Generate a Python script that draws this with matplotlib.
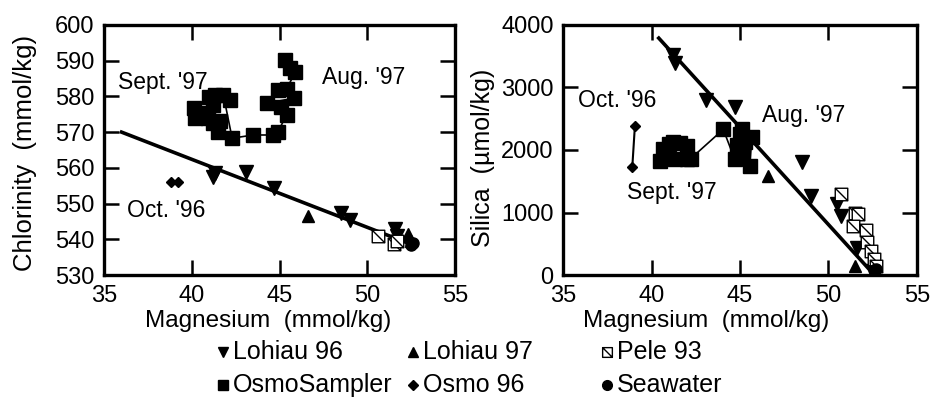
import matplotlib
matplotlib.use("Agg")
import matplotlib.pyplot as plt
from matplotlib.lines import Line2D
from matplotlib.path import Path

plt.rcParams["font.family"] = ["Liberation Sans", "DejaVu Sans"]

# ---- Data: chlorinity vs magnesium (left panel) ----
cl_lohiau96_mg = [41.2, 41.3, 43.1, 44.7, 48.5, 49.0, 51.6, 51.7]
cl_lohiau96 = [557.5, 558.5, 558.9, 554.3, 547.3, 545.4, 542.8, 541.0]
cl_lohiau97_mg = [46.6, 52.3, 52.5]
cl_lohiau97 = [546.5, 541.6, 539.5]
cl_pele93_mg = [50.6, 51.5, 51.7]
cl_pele93 = [540.9, 538.6, 539.6]
cl_seawater_mg = [52.5, 52.6]
cl_seawater = [538.4, 538.9]
cl_osmo96_mg = [38.8, 39.2]
cl_osmo96 = [556.1, 556.1]
cl_osmo_mg = [45.3, 45.6, 45.9, 45.4, 44.9, 45.8, 44.3, 45.1, 45.4, 44.9,
              44.6, 43.5, 42.3, 41.8, 42.2, 41.3, 41.0, 41.2, 40.7, 40.1,
              40.2, 40.9, 41.2, 41.6, 41.5]
cl_osmo = [590.2, 588.0, 586.9, 582.0, 581.8, 579.5, 578.1, 577.1, 574.8, 570.0,
           569.2, 569.2, 568.3, 580.4, 579.0, 580.4, 579.9, 577.5, 575.3, 576.7,
           573.9, 573.9, 572.5, 573.0, 570.1]
cl_fit_mg = [36.0, 52.6]
cl_fit = [570.0, 538.4]

# ---- Data: silica vs magnesium (right panel) ----
si_lohiau96_mg = [41.2, 41.3, 43.1, 44.7, 48.5, 49.0, 50.5, 50.7, 51.6, 52.5]
si_lohiau96 = [3520, 3390, 2800, 2690, 1800, 1270, 1130, 950, 440, 60]
si_lohiau97_mg = [46.6, 51.5, 52.6]
si_lohiau97 = [1590, 150, 170]
si_pele93_mg = [50.7, 51.5, 51.7, 51.4, 52.1, 52.2, 52.4, 52.6, 52.7]
si_pele93 = [1290, 1000, 970, 780, 720, 530, 390, 250, 150]
si_seawater_mg = [52.6, 52.7]
si_seawater = [80, 100]
si_osmo96_mg = [39.05, 38.9]
si_osmo96 = [2390, 1720]
si_osmo_mg = [40.47, 40.66, 41.0, 41.32, 41.2, 41.6, 42.0, 42.0, 42.2, 44.05,
              44.7, 44.8, 45.0, 45.1, 45.1, 45.3, 45.66, 45.56]
si_osmo = [1830, 2020, 2100, 1860, 2125, 2110, 2070, 1860, 1860, 2330,
           1850, 2080, 2250, 2330, 1950, 2120, 2200, 1750]
si_fit_mg = [40.4, 52.6]
si_fit = [3790, 0]

# open square with a diagonal, used for Pele 93
pele_marker = Path([(-1, -1), (1, -1), (1, 1), (-1, 1), (-1, -1), (-1, 1), (1, -1)],
                   [Path.MOVETO, Path.LINETO, Path.LINETO, Path.LINETO,
                    Path.CLOSEPOLY, Path.MOVETO, Path.LINETO])

fig = plt.figure(figsize=(9.33, 4.03), dpi=100)
ax1 = fig.add_axes([0.1115, 0.3176, 0.3762, 0.6204])
ax2 = fig.add_axes([0.6038, 0.3176, 0.3788, 0.6204])


def style_axis(ax):
    for sp in ax.spines.values():
        sp.set_linewidth(2.4)
    ax.tick_params(direction="in", length=11, width=1.8, labelsize=17,
                   top=True, right=True, pad=7)
    ax.set_xlim(35, 55)
    ax.set_xticks([35, 40, 45, 50, 55])


def draw_points(ax, data):
    lo96, lo97, pele, sea, o96, osmo, fit = data
    ax.plot(*fit, color="black", lw=2.6, zorder=2)
    ax.plot(*osmo, color="black", lw=1.2, marker="s", ms=9.5,
            mfc="black", mec="black", zorder=3)
    ax.plot(*o96, color="black", lw=1.5, marker="D", ms=5.5, zorder=3)
    ax.plot(*lo96, ls="none", marker="v", ms=9.5, color="black", zorder=3)
    ax.plot(*lo97, ls="none", marker="^", ms=9, color="black", zorder=3)
    ax.plot(*pele, ls="none", marker=pele_marker, ms=9, mfc="white",
            mec="black", mew=1, zorder=4)
    ax.plot(*sea, ls="none", marker="o", ms=8, color="black", zorder=5)


style_axis(ax1)
ax1.set_ylim(530, 600)
ax1.set_yticks(range(530, 601, 10))
draw_points(ax1, [(cl_lohiau96_mg, cl_lohiau96), (cl_lohiau97_mg, cl_lohiau97),
                  (cl_pele93_mg, cl_pele93), (cl_seawater_mg, cl_seawater),
                  (cl_osmo96_mg, cl_osmo96), (cl_osmo_mg, cl_osmo),
                  (cl_fit_mg, cl_fit)])
ax1.text(35.8, 584, "Sept. '97", fontsize=16.5, va="center")
ax1.text(47.4, 585.2, "Aug. '97", fontsize=16.5, va="center")
ax1.text(36.3, 548.2, "Oct. '96", fontsize=16.5, va="center")
ax1.set_xlabel("Magnesium  (mmol/kg)", fontsize=17.5)
ax1.xaxis.set_label_coords(0.467, -0.14)
ax1.set_ylabel("Chlorinity  (mmol/kg)", fontsize=18.5)
ax1.yaxis.set_label_coords(-0.19, 0.49)

style_axis(ax2)
ax2.set_ylim(0, 4000)
ax2.set_yticks(range(0, 4001, 1000))
draw_points(ax2, [(si_lohiau96_mg, si_lohiau96), (si_lohiau97_mg, si_lohiau97),
                  (si_pele93_mg, si_pele93), (si_seawater_mg, si_seawater),
                  (si_osmo96_mg, si_osmo96), (si_osmo_mg, si_osmo),
                  (si_fit_mg, si_fit)])
ax2.text(35.83, 2795, "Oct. '96", fontsize=16.5, va="center")
ax2.text(46.23, 2554, "Aug. '97", fontsize=16.5, va="center")
ax2.text(38.59, 1322, "Sept. '97", fontsize=16.5, va="center")
ax2.set_xlabel("Magnesium  (mmol/kg)", fontsize=17.5)
ax2.xaxis.set_label_coords(0.404, -0.14)
ax2.set_ylabel("Silica  (\u00b5mol/kg)", fontsize=18)
ax2.yaxis.set_label_coords(-0.193, 0.47)

# legend laid out by hand in three fixed columns
legend_items = [
    ("Lohiau 96", "v", "black", 223, 352),
    ("OsmoSampler", "s", "black", 223, 385),
    ("Lohiau 97", "^", "black", 413, 352),
    ("Osmo 96", "D", "black", 413, 385),
    ("Pele 93", pele_marker, "white", 607, 352),
    ("Seawater", "o", "black", 607, 385),
]
W, H = 933, 403
for label, mk, fc, px, py in legend_items:
    ms = 5 if mk == "D" else 7
    fig.add_artist(Line2D([px / W], [1 - py / H], transform=fig.transFigure,
                          marker=mk, ms=ms, mfc=fc, mec="black", mew=1,
                          ls="none"))
    fig.text((px + 10) / W, 1 - py / H, label, fontsize=18, va="center")

fig.savefig("out.png", dpi=100)
